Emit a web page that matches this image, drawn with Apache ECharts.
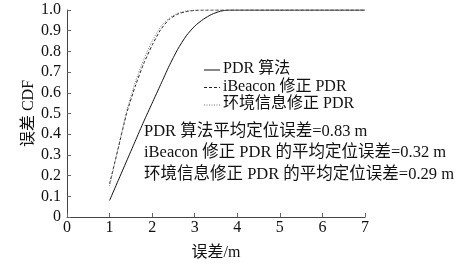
<!DOCTYPE html>
<html><head><meta charset="utf-8">
<script src="https://cdn.jsdelivr.net/npm/echarts@6/dist/echarts.min.js"></script>
<style>html,body{margin:0;padding:0;background:#fff}#c{width:472px;height:266px}</style>
</head><body><div id="c"></div>
<script>
const seriesNames = ['PDR 算法', 'iBeacon 修正 PDR', '环境信息修正 PDR'];
const xPDR = [1.0,1.2,1.4,1.6,1.8,2.0,2.2,2.4,2.6,2.8,3.0,3.2,3.4,3.6,3.8,4,5,6,7];
const yPDR = [0.08,0.175,0.27,0.365,0.46,0.55,0.64,0.73,0.81,0.875,0.922,0.955,0.979,0.994,1.0,1.0,1.0,1.0,1.0];
const xBeacon = [1.0,1.2,1.4,1.6,1.8,2.0,2.2,2.4,2.6,2.8,3.0,3.2,4,5,6,7];
const yBeacon = [0.16,0.33,0.50,0.63,0.74,0.83,0.905,0.955,0.98,0.992,0.998,1.0,1.0,1.0,1.0,1.0];
const xEnv = [1.0,1.2,1.4,1.6,1.8,2.0,2.2,2.4,2.6,2.8,3.0,4,5,6,7];
const yEnv = [0.15,0.33,0.51,0.65,0.76,0.85,0.92,0.96,0.985,0.995,1.0,1.0,1.0,1.0,1.0];
const xAxisName = '误差/m';
const yAxisName = '误差 CDF';
const notes = ['PDR 算法平均定位误差=0.83 m', 'iBeacon 修正 PDR 的平均定位误差=0.32 m', '环境信息修正 PDR 的平均定位误差=0.29 m'];

const FONT = "'Liberation Serif', 'Noto Sans CJK SC', serif";
const zip = (xs, ys) => xs.map((x, i) => [x, ys[i]]);
const lineStyles = [
  { color: '#111', width: 1, type: 'solid' },
  { color: '#222', width: 1, type: [3, 2] },
  { color: '#777', width: 1, type: [1, 1.5] }
];
const legendGraphic = [];
seriesNames.forEach((n, i) => {
  const y = 70 + i * 17.5;
  legendGraphic.push({ type: 'line', shape: { x1: 204, y1: y, x2: 220, y2: y },
    style: { stroke: lineStyles[i].color, lineWidth: 1, lineDash: lineStyles[i].type === 'solid' ? null : lineStyles[i].type } });
  legendGraphic.push({ type: 'text', left: 223, top: y - 9,
    style: { text: n, fontFamily: FONT, fontSize: 16, fill: '#111' } });
});
const chart = echarts.init(document.getElementById('c'));
chart.setOption({
  animation: false,
  backgroundColor: '#fff',
  grid: { left: 67, right: 107, top: 10, bottom: 42 },
  xAxis: {
    type: 'value', min: 0, max: 7, interval: 1,
    name: xAxisName, nameLocation: 'middle', nameGap: 28, nameMoveOverlap: false,
    nameTextStyle: { fontFamily: FONT, fontSize: 16, color: '#111' },
    axisLine: { lineStyle: { color: '#444', width: 1 } },
    axisTick: { inside: true, length: 4, lineStyle: { color: '#666' } },
    axisLabel: { fontFamily: FONT, fontSize: 16, color: '#111', margin: 3, showMaxLabel: true },
    splitLine: { show: false }
  },
  yAxis: {
    type: 'value', min: 0, max: 1, interval: 0.1,
    name: yAxisName, nameLocation: 'middle', nameGap: 30, nameRotate: 90, nameMoveOverlap: false,
    nameTextStyle: { fontFamily: FONT, fontSize: 16, color: '#111' },
    axisLine: { show: true, lineStyle: { color: '#444', width: 1 } },
    axisTick: { show: true, inside: true, length: 4, lineStyle: { color: '#666' } },
    axisLabel: { fontFamily: FONT, fontSize: 16, color: '#111', margin: 6,
      formatter: v => v === 0 ? '0' : v.toFixed(1) },
    splitLine: { show: false }
  },
  series: seriesNames.map((n, i) => ({
    name: n, type: 'line', data: zip([xPDR, xBeacon, xEnv][i], [yPDR, yBeacon, yEnv][i]),
    showSymbol: false, symbol: 'none', smooth: 0.2,
    lineStyle: lineStyles[i], itemStyle: { color: lineStyles[i].color }
  })),
  graphic: legendGraphic.concat(notes.map((t, i) => ({
    type: 'text', left: 144, top: 123 + i * 21.5,
    style: { text: t, fontFamily: FONT, fontSize: 16.5, fill: '#111' }
  })))
});
</script></body></html>
